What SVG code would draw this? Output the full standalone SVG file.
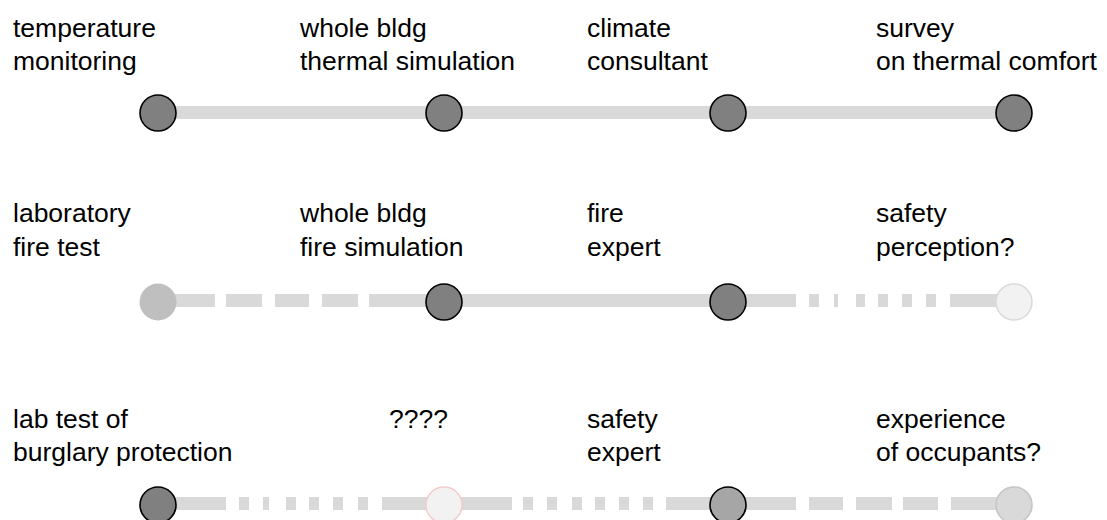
<svg xmlns="http://www.w3.org/2000/svg" width="1107" height="520" viewBox="0 0 1107 520">
<style>
text{font-family:"Liberation Sans",Arial,sans-serif;font-size:26.5px;fill:#000}
.ln{fill:none;stroke:#d9d9d9;stroke-width:13;stroke-linecap:butt}
.dk{fill:#808080;stroke:#000;stroke-width:1.6}
.md{fill:#a6a6a6;stroke:#000;stroke-width:1.6}
</style>
<rect width="1107" height="520" fill="#fff"/>
<g id="connectors">
<path class="ln" d="M158 112.5H1014"/>
<path class="ln" d="M158 300.5H215M226 300.5H262M275 300.5H309M322 300.5H358M369 300.5H728M728 300.5H796M809 300.5H819M834 300.5H838M856 300.5H865M878 300.5H888M902 300.5H912M926 300.5H936M950 300.5H1014"/>
<path class="ln" d="M158 503.5H226M239 503.5H249M263 503.5H269M286 503.5H296M309 503.5H319M333 503.5H343M358 503.5H368M382 503.5H512M523 503.5H533M547 503.5H557M572 503.5H582M595 503.5H605M619 503.5H629M643 503.5H653M666 503.5H796M809 503.5H843M856 503.5H892M903 503.5H938M951 503.5H1014"/>
</g>
<g id="n-temperature"><text x="13" y="37">temperature</text><text x="13" y="70">monitoring</text><circle class="dk" cx="158" cy="113" r="18"/></g>
<g id="n-thermal-sim"><text x="300" y="37">whole bldg</text><text x="300" y="70">thermal simulation</text><circle class="dk" cx="444" cy="113" r="18"/></g>
<g id="n-climate"><text x="587" y="37">climate</text><text x="587" y="70">consultant</text><circle class="dk" cx="728" cy="113" r="18"/></g>
<g id="n-survey"><text x="876" y="37">survey</text><text x="876" y="70">on thermal comfort</text><circle class="dk" cx="1014" cy="113" r="18"/></g>
<g id="n-lab-fire"><text x="13" y="222">laboratory</text><text x="13" y="256">fire test</text><circle cx="158" cy="302" r="18.5" fill="#bfbfbf"/></g>
<g id="n-fire-sim"><text x="300" y="222">whole bldg</text><text x="300" y="256">fire simulation</text><circle class="dk" cx="444" cy="302" r="18"/></g>
<g id="n-fire-expert"><text x="587" y="222">fire</text><text x="587" y="256">expert</text><circle class="dk" cx="728" cy="302" r="18"/></g>
<g id="n-safety-perc"><text x="876" y="222">safety</text><text x="876" y="256">perception?</text><circle cx="1014" cy="302" r="18" fill="#f2f2f2" stroke="#d9d9d9" stroke-width="1.5"/></g>
<g id="n-burglary"><text x="13" y="428">lab test of</text><text x="13" y="461">burglary protection</text><circle class="dk" cx="158" cy="505" r="18"/></g>
<g id="n-unknown"><text x="389" y="428">????</text><circle cx="444" cy="505" r="18" fill="#f2f2f2" stroke="#f2cccc" stroke-width="1.5"/></g>
<g id="n-safety-expert"><text x="587" y="428">safety</text><text x="587" y="461">expert</text><circle class="md" cx="728" cy="505" r="18"/></g>
<g id="n-occupants"><text x="876" y="428">experience</text><text x="876" y="461">of occupants?</text><circle cx="1014" cy="505" r="18" fill="#d9d9d9" stroke="#c4c4c4" stroke-width="1.5"/></g>
</svg>
